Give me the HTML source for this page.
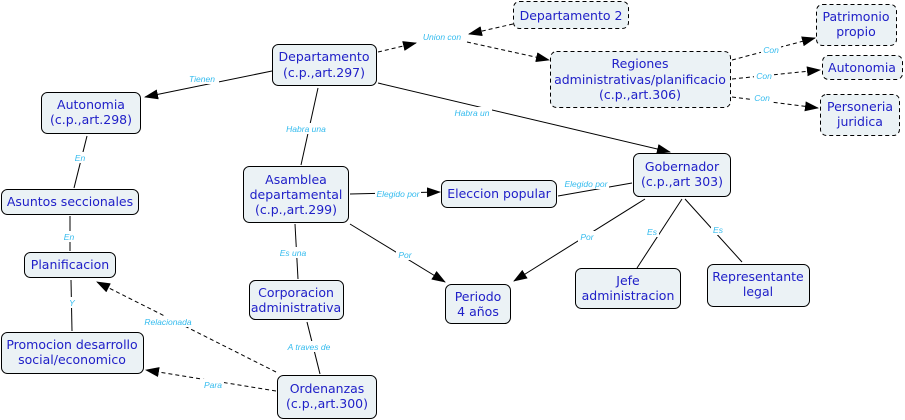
<!DOCTYPE html>
<html><head><meta charset="utf-8"><style>
body{margin:0;background:#fff;width:905px;height:420px;overflow:hidden}
svg{display:block}
.n{fill:#ebf2f5;stroke:#000;stroke-width:1}
.d{stroke-dasharray:4,3}
.t{font-family:"DejaVu Sans","Liberation Sans",sans-serif;font-size:12.5px;fill:#2020c8;text-anchor:middle}
.l{font-family:"Liberation Sans",sans-serif;font-size:8.5px;font-style:italic;fill:#33bbee;text-anchor:middle}
.e{stroke:#000;stroke-width:1;fill:none}
</style></head><body>
<svg width="905" height="420" xmlns="http://www.w3.org/2000/svg">
<defs><marker id="a" markerWidth="14" markerHeight="10" refX="13" refY="5" orient="auto" markerUnits="userSpaceOnUse"><path d="M0,0 L14,5 L0,10 z" fill="#000"/></marker></defs>
<g class="e">
<path d="M272,71 L145,97" marker-end="url(#a)"/>
<path class="d" d="M378,52 L416,43" marker-end="url(#a)"/>
<path class="d" d="M513,24 L469,34" marker-end="url(#a)"/>
<path class="d" d="M467,42 L549,60" marker-end="url(#a)"/>
<path d="M378,83 L670,152" marker-end="url(#a)"/>
<path d="M318,88 L301,165"/>
<path class="d" d="M732,60 L815,38" marker-end="url(#a)"/>
<path class="d" d="M732,79 L820,70" marker-end="url(#a)"/>
<path class="d" d="M732,97 L818,108" marker-end="url(#a)"/>
<path d="M87,136 L74,188"/>
<path d="M70,216 L70,251"/>
<path d="M71,280 L72,331"/>
<path d="M350,194 L440,192" marker-end="url(#a)"/>
<path d="M632,183 L558,196"/>
<path d="M295,224 L298,279"/>
<path d="M350,224 L445,282" marker-end="url(#a)"/>
<path d="M645,199 L514,281" marker-end="url(#a)"/>
<path d="M682,199 L637,268"/>
<path d="M685,199 L742,262"/>
<path d="M307,322 L320,374"/>
<path class="d" d="M276,372 L97,282" marker-end="url(#a)"/>
<path class="d" d="M276,391 L146,370" marker-end="url(#a)"/>
</g>
<g>
<rect fill="#fff" x="185" y="73" width="34" height="11"/><text class="l" x="202" y="82">Tienen</text>
<rect fill="#fff" x="420" y="32" width="44" height="11"/><text class="l" x="442" y="40">Union con</text>
<rect fill="#fff" x="452" y="107" width="40" height="11"/><text class="l" x="472" y="116">Habra un</text>
<rect fill="#fff" x="284" y="123" width="44" height="11"/><text class="l" x="306" y="132">Habra una</text>
<rect fill="#fff" x="761" y="44" width="20" height="11"/><text class="l" x="771" y="53">Con</text>
<rect fill="#fff" x="754" y="70" width="20" height="11"/><text class="l" x="764" y="79">Con</text>
<rect fill="#fff" x="752" y="92" width="20" height="11"/><text class="l" x="762" y="101">Con</text>
<rect fill="#fff" x="73" y="152" width="14" height="11"/><text class="l" x="80" y="161">En</text>
<rect fill="#fff" x="62" y="231" width="14" height="11"/><text class="l" x="69" y="240">En</text>
<rect fill="#fff" x="66" y="297" width="12" height="11"/><text class="l" x="72" y="306">Y</text>
<rect fill="#fff" x="375" y="188" width="46" height="11"/><text class="l" x="398" y="197">Elegido por</text>
<rect fill="#fff" x="563" y="178" width="46" height="11"/><text class="l" x="586" y="187">Elegido por</text>
<rect fill="#fff" x="278" y="247" width="30" height="11"/><text class="l" x="293" y="256">Es una</text>
<rect fill="#fff" x="396" y="249" width="18" height="11"/><text class="l" x="405" y="258">Por</text>
<rect fill="#fff" x="578" y="231" width="18" height="11"/><text class="l" x="587" y="240">Por</text>
<rect fill="#fff" x="645" y="226" width="14" height="11"/><text class="l" x="652" y="235">Es</text>
<rect fill="#fff" x="711" y="224" width="14" height="11"/><text class="l" x="718" y="233">Es</text>
<rect fill="#fff" x="286" y="341" width="46" height="11"/><text class="l" x="309" y="350">A traves de</text>
<rect fill="#fff" x="142" y="316" width="52" height="11"/><text class="l" x="168" y="325">Relacionada</text>
<rect fill="#fff" x="202" y="379" width="22" height="11"/><text class="l" x="213" y="388">Para</text>
</g>
<g>
<rect class="n" x="272.5" y="44.5" width="104" height="41" rx="6"/><text class="t" x="324" y="61">Departamento</text><text class="t" x="324" y="77">(c.p.,art.297)</text>
<rect class="n d" x="513.5" y="1.5" width="115" height="27" rx="6"/><text class="t" x="571" y="20">Departamento 2</text>
<rect class="n d" x="550.5" y="51.5" width="180" height="56" rx="6"/><text class="t" x="640" y="68">Regiones</text><text class="t" x="640" y="84">administrativas/planificacio</text><text class="t" x="640" y="99">(c.p.,art.306)</text>
<rect class="n d" x="816.5" y="4.5" width="80" height="41" rx="6"/><text class="t" x="856" y="21">Patrimonio</text><text class="t" x="856" y="36">propio</text>
<rect class="n d" x="822.5" y="55.5" width="80" height="24" rx="6"/><text class="t" x="862" y="72">Autonomia</text>
<rect class="n d" x="820.5" y="94.5" width="79" height="41" rx="6"/><text class="t" x="860" y="111">Personeria</text><text class="t" x="860" y="126">juridica</text>
<rect class="n" x="41.5" y="92.5" width="99" height="41" rx="6"/><text class="t" x="91" y="109">Autonomia</text><text class="t" x="91" y="124">(c.p.,art.298)</text>
<rect class="n" x="1.5" y="189.5" width="137" height="25" rx="6"/><text class="t" x="70" y="206">Asuntos seccionales</text>
<rect class="n" x="243.5" y="166.5" width="105" height="56" rx="6"/><text class="t" x="296" y="184">Asamblea</text><text class="t" x="296" y="199">departamental</text><text class="t" x="296" y="214">(c.p.,art.299)</text>
<rect class="n" x="441.5" y="180.5" width="115" height="27" rx="6"/><text class="t" x="499" y="198">Eleccion popular</text>
<rect class="n" x="633.5" y="153.5" width="97" height="43" rx="6"/><text class="t" x="682" y="171">Gobernador</text><text class="t" x="682" y="186">(c.p.,art 303)</text>
<rect class="n" x="24.5" y="252.5" width="91" height="25" rx="6"/><text class="t" x="70" y="269">Planificacion</text>
<rect class="n" x="249.5" y="280.5" width="94" height="39" rx="6"/><text class="t" x="296" y="297">Corporacion</text><text class="t" x="296" y="312">administrativa</text>
<rect class="n" x="445.5" y="284.5" width="65" height="39" rx="6"/><text class="t" x="478" y="301">Periodo</text><text class="t" x="478" y="316">4 años</text>
<rect class="n" x="575.5" y="268.5" width="105" height="40" rx="6"/><text class="t" x="628" y="285">Jefe</text><text class="t" x="628" y="300">administracion</text>
<rect class="n" x="707.5" y="264.5" width="102" height="42" rx="6"/><text class="t" x="758" y="281">Representante</text><text class="t" x="758" y="296">legal</text>
<rect class="n" x="1.5" y="332.5" width="142" height="41" rx="6"/><text class="t" x="72" y="349">Promocion desarrollo</text><text class="t" x="72" y="364">social/economico</text>
<rect class="n" x="277.5" y="375.5" width="99" height="43" rx="6"/><text class="t" x="327" y="393">Ordenanzas</text><text class="t" x="327" y="408">(c.p.,art.300)</text>
</g>
</svg>
</body></html>
